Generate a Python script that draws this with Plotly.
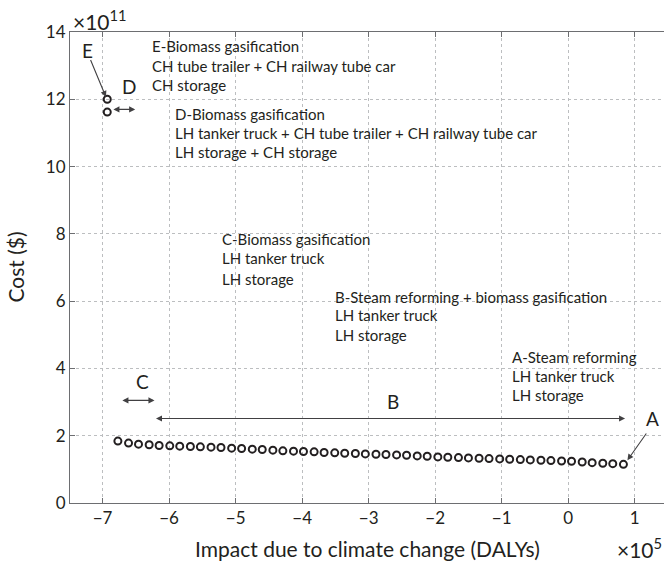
import plotly.graph_objects as go

# Impact (x, in units of 1e5 DALYs) and cost (y, in units of 1e11 $)
impact = [-6.77, -6.61, -6.46, -6.30, -6.15, -5.99, -5.84, -5.68, -5.53, -5.37,
          -5.22, -5.06, -4.91, -4.75, -4.60, -4.44, -4.29, -4.13, -3.98, -3.82,
          -3.67, -3.51, -3.36, -3.20, -3.05, -2.89, -2.74, -2.58, -2.43, -2.27,
          -2.12, -1.96, -1.81, -1.65, -1.50, -1.34, -1.19, -1.03, -0.88, -0.72,
          -0.57, -0.41, -0.26, -0.10, 0.05, 0.21, 0.36, 0.52, 0.67, 0.83]
cost = [1.84, 1.78, 1.75, 1.73, 1.71, 1.70, 1.69, 1.68, 1.67, 1.66,
        1.65, 1.63, 1.62, 1.60, 1.59, 1.57, 1.55, 1.54, 1.53, 1.52,
        1.50, 1.49, 1.48, 1.47, 1.46, 1.45, 1.44, 1.43, 1.42, 1.40,
        1.39, 1.37, 1.36, 1.35, 1.34, 1.33, 1.32, 1.31, 1.30, 1.29,
        1.28, 1.27, 1.26, 1.25, 1.24, 1.22, 1.20, 1.18, 1.17, 1.15]
ch_impact = [-6.93, -6.93]
ch_cost = [12.0, 11.62]

x_ticks = [-7, -6, -5, -4, -3, -2, -1, 0, 1]
y_ticks = [0, 2, 4, 6, 8, 10, 12, 14]

FONT = "Lato"
TXT = "#231f20"
AX = "#6d6e71"

fig = go.Figure()
for xs, ys in [(impact, cost), (ch_impact, ch_cost)]:
    fig.add_trace(go.Scatter(x=xs, y=ys, mode="markers",
                             marker=dict(symbol="circle-open", size=7, color="#231f20",
                                         line=dict(width=2, color="#231f20")),
                             showlegend=False, cliponaxis=False))

ann = []
def txt(x, y, s, size=15, anchor="left"):
    ann.append(dict(x=x, y=y, xref="x", yref="y", text=s, showarrow=False,
                    xanchor=anchor, yanchor="middle",
                    font=dict(family=FONT, size=size, color=TXT)))

blocks = [
    (-6.28, [13.57, 12.99, 12.41], ["E-Biomass gasification",
                                    "CH tube trailer + CH railway tube car",
                                    "CH storage"]),
    (-5.94, [11.57, 11.00, 10.43], ["D-Biomass gasification",
                                    "LH tanker truck + CH tube trailer + CH railway tube car",
                                    "LH storage + CH storage"]),
    (-5.23, [7.86, 7.27, 6.67], ["C-Biomass gasification", "LH tanker truck", "LH storage"]),
    (-3.53, [6.12, 5.58, 4.99], ["B-Steam reforming + biomass gasification",
                                 "LH tanker truck", "LH storage"]),
    (-0.88, [4.33, 3.78, 3.21], ["A-Steam reforming", "LH tanker truck", "LH storage"]),
]
for bx, ys, lines in blocks:
    for yy, s in zip(ys, lines):
        txt(bx, yy, s)

for lx, ly, s in [(-7.23, 13.46, "E"), (-6.60, 12.37, "D"), (-6.40, 3.62, "C"),
                  (-2.64, 3.03, "B"), (1.265, 2.51, "A")]:
    txt(lx, ly, s, size=19, anchor="center")

def arrow(x0, y0, x1, y1, both=False):
    ann.append(dict(x=x1, y=y1, ax=x0, ay=y0, xref="x", yref="y", axref="x", ayref="y",
                    text="", showarrow=True, arrowhead=2, arrowsize=1.1, arrowwidth=1.1,
                    startarrowhead=2, startarrowsize=1.1,
                    arrowside="end+start" if both else "end", arrowcolor="#414042",
                    standoff=0, startstandoff=0))

arrow(-7.19, 13.21, -6.95, 12.07)
arrow(-6.86, 11.70, -6.51, 11.70, both=True)
arrow(-6.725, 3.05, -6.22, 3.05, both=True)
arrow(-6.22, 2.51, 0.855, 2.51, both=True)
arrow(1.19, 2.11, 0.89, 1.27)

# exponent labels and axis titles
ann.append(dict(x=0, y=1, xref="paper", yref="paper", text="×10<sup>11</sup>",
                showarrow=False, xanchor="left", yanchor="middle", xshift=1, yshift=12,
                font=dict(family=FONT, size=21, color=TXT)))
ann.append(dict(x=1, y=0, xref="paper", yref="paper", text="×10<sup>5</sup>",
                showarrow=False, xanchor="right", yanchor="middle", yshift=-45,
                font=dict(family=FONT, size=21, color=TXT)))
ann.append(dict(x=0.5, y=0, xref="paper", yref="paper",
                text="Impact due to climate change (DALYs)",
                showarrow=False, xanchor="center", yanchor="middle", yshift=-45,
                font=dict(family=FONT, size=21, color=TXT)))
ann.append(dict(x=0, y=0.5, xref="paper", yref="paper", text="Cost ($)", textangle=-90,
                showarrow=False, xanchor="center", yanchor="middle", xshift=-55,
                font=dict(family=FONT, size=21, color=TXT)))

fig.update_layout(
    width=664, height=562,
    margin=dict(l=70, r=0, t=32, b=59),
    paper_bgcolor="white", plot_bgcolor="white",
    font=dict(family=FONT, size=17, color=TXT),
    annotations=ann,
    xaxis=dict(range=[-7.49, 1.44], tickvals=x_ticks,
               ticktext=[("−" + str(-v)) if v < 0 else str(v) for v in x_ticks],
               showline=True, linecolor=AX, linewidth=1, mirror="ticks",
               ticks="inside", ticklen=5, tickcolor=AX,
               showgrid=True, gridcolor="#bcbec0", griddash="dot", gridwidth=1,
               zeroline=False,
               tickfont=dict(family=FONT, size=17, color=TXT)),
    yaxis=dict(range=[0, 14], tickvals=y_ticks,
               showline=True, linecolor=AX, linewidth=1, mirror=False,
               ticks="inside", ticklen=5, tickcolor=AX,
               showgrid=True, gridcolor="#bcbec0", griddash="dot", gridwidth=1,
               zeroline=False,
               tickfont=dict(family=FONT, size=17, color=TXT)),
)

fig.write_html("out.html", config={"displayModeBar": False}, post_script=(
    "document.body.style.margin='0';"
    "document.body.style.overflow='hidden';"
    "document.documentElement.style.overflow='hidden';"))
